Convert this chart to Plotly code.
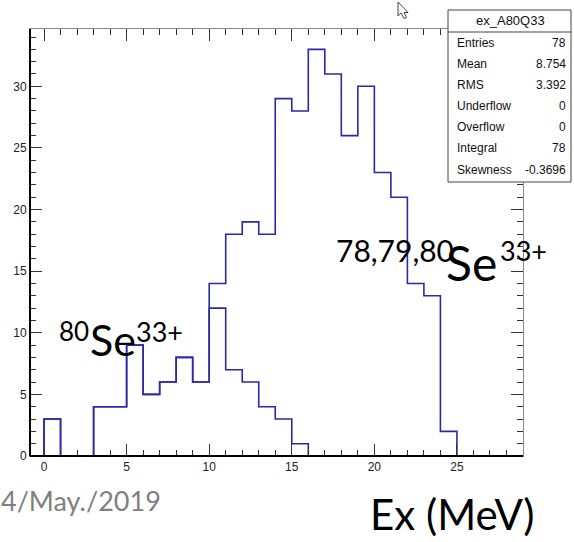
import plotly.graph_objects as go

# Excitation-energy histograms, 1 MeV bins from 0 to 25 MeV
bin_edges = list(range(0, 26))
counts_all = [3, 0, 0, 4, 4, 9, 5, 6, 8, 6, 14, 18, 19, 18, 29,
              28, 33, 31, 26, 30, 23, 21, 14, 13, 2]          # 78,79,80Se33+
counts_a80 = [3, 0, 0, 4, 4, 9, 5, 6, 8, 6, 12, 7, 6, 4, 3,
              1, 0, 0, 0, 0, 0, 0, 0, 0, 0]                   # 80Se33+

x_ticks = [0, 5, 10, 15, 20, 25]
y_ticks = [0, 5, 10, 15, 20, 25, 30]

stats_title = "ex_A80Q33"
stats_names = ["Entries", "Mean", "RMS", "Underflow", "Overflow", "Integral", "Skewness"]
stats_values = ["78", "8.754", "3.392", "0", "0", "78", "-0.3696"]

W, H = 574, 542
L, R, T, B = 30, 523, 29, 456   # plot frame in pixels


def px(x):
    return (x - L) / (R - L)


def py(y):
    return (B - y) / (B - T)


def outline(counts):
    xs = [bin_edges[0]] + bin_edges[:-1] + [bin_edges[-1]]
    ys = [0] + counts + [0]
    return xs, ys


line_col = "#2a2aa8"
fig = go.Figure()
for name, c in [("78,79,80Se", counts_all), ("80Se", counts_a80)]:
    xs, ys = outline(c)
    fig.add_trace(go.Scatter(x=xs, y=ys, mode="lines", line_shape="hv",
                             line=dict(color=line_col, width=1.6),
                             name=name, showlegend=False, hoverinfo="skip"))

axis_common = dict(
    showgrid=False, zeroline=False, ticks="inside", ticklen=12,
    tickcolor="#333", tickwidth=1, showline=True, linecolor="#8a8a8a",
    linewidth=1, mirror="allticks",
    tickfont=dict(family="Liberation Sans Narrow, Liberation Sans, Arial", size=12, color="#222"),
)
fig.update_xaxes(range=[-0.85, 29.0], tickvals=x_ticks,
                 minor=dict(dtick=1, ticks="inside", ticklen=6, tickcolor="#333"),
                 **axis_common)
fig.update_yaxes(range=[0, 34.65], tickvals=y_ticks,
                 minor=dict(dtick=1, ticks="inside", ticklen=6, tickcolor="#333"),
                 **axis_common)

shapes = [
    # heavier left and bottom axis lines
    dict(type="line", xref="paper", yref="paper", x0=0, x1=0, y0=0, y1=1,
         line=dict(color="black", width=2), layer="above"),
    dict(type="line", xref="paper", yref="paper", x0=0, x1=1, y0=0, y1=0,
         line=dict(color="black", width=2), layer="above"),
    # statistics box
    dict(type="rect", xref="paper", yref="paper", x0=px(448), x1=px(571), y0=py(182), y1=py(10),
         line=dict(color="#444", width=1), fillcolor="white", layer="above"),
    dict(type="line", xref="paper", yref="paper", x0=px(448), x1=px(571), y0=py(32), y1=py(32),
         line=dict(color="#444", width=1), layer="above"),
]
# mouse pointer
cur = [(398, 2), (398, 16), (401, 13), (404, 18.5), (406.5, 17.5), (404, 12.5), (408, 12.5)]
path = "M " + " L ".join(f"{px(a):.5f},{py(b):.5f}" for a, b in cur) + " Z"
shapes.append(dict(type="path", xref="paper", yref="paper", path=path,
                   line=dict(color="#444", width=1), fillcolor="white", layer="above"))

ann = []
stat_font = dict(family="Liberation Sans Narrow, Liberation Sans, Arial", size=12, color="#111")
ann.append(dict(text=stats_title, x=px(510), y=py(21), xanchor="center", yanchor="middle",
                font=dict(family=stat_font["family"], size=13, color="#111")))
row_y = [43, 64, 85, 106, 127, 148, 170]
for nm, val, yy in zip(stats_names, stats_values, row_y):
    ann.append(dict(text=nm, x=px(455), y=py(yy), xanchor="left", yanchor="middle", font=stat_font))
    ann.append(dict(text=val, x=px(568), y=py(yy), xanchor="right", yanchor="middle", font=stat_font))

big_font = "Lato, Open Sans, sans-serif"
# 80Se33+ label
ann.append(dict(text="80", x=px(57), y=py(331), xanchor="left", yanchor="middle",
                font=dict(family=big_font, size=26, color="black")))
ann.append(dict(text="Se", x=px(88), y=py(340), xanchor="left", yanchor="middle",
                font=dict(family=big_font, size=43, color="black")))
ann.append(dict(text="33+", x=px(134), y=py(331), xanchor="left", yanchor="middle",
                font=dict(family=big_font, size=27, color="black")))
# 78,79,80Se33+ label
ann.append(dict(text="78,79,80", x=px(334), y=py(250), xanchor="left", yanchor="middle",
                font=dict(family=big_font, size=30, color="black")))
ann.append(dict(text="Se", x=px(444), y=py(262), xanchor="left", yanchor="middle",
                font=dict(family=big_font, size=48, color="black")))
ann.append(dict(text="33+", x=px(498), y=py(250), xanchor="left", yanchor="middle",
                font=dict(family=big_font, size=27, color="black")))
# date and axis caption
ann.append(dict(text="4/May./2019", x=px(-1), y=py(500), xanchor="left", yanchor="middle",
                font=dict(family=big_font, size=27, color="#808080")))
ann.append(dict(text="Ex (MeV)", x=px(452), y=py(514), xanchor="center", yanchor="middle",
                font=dict(family=big_font, size=42, color="black")))
for a in ann:
    a.update(xref="paper", yref="paper", showarrow=False)

fig.update_layout(
    width=W, height=H,
    margin=dict(l=L, r=W - R, t=T, b=H - B, pad=0),
    paper_bgcolor="white", plot_bgcolor="white",
    shapes=shapes, annotations=ann,
)
fig.write_html("out.html")
